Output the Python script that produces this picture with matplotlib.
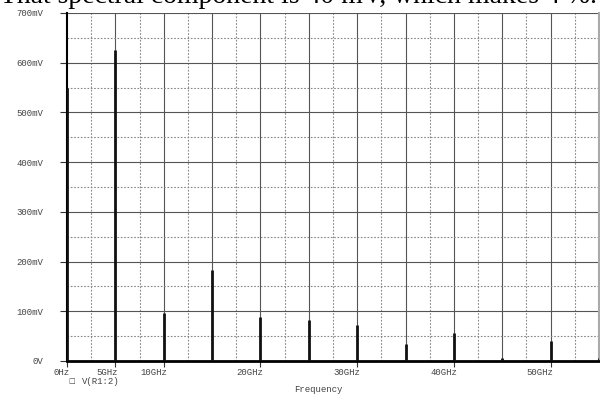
import matplotlib.pyplot as plt
import matplotlib.transforms as mtransforms
import numpy as np

# spectrum lines (GHz, mV)
freq_ghz = [0, 5, 10, 15, 20, 25, 30, 34.7, 35, 39.7, 40, 45, 49.7, 50, 55]
volt_mv = [550, 626, 97, 183, 88, 82, 73, 2, 35, 2, 57, 6, 2, 40, 6]

xtick_pos = [0, 5, 10, 20, 30, 40, 50]
xtick_lab = ['0Hz', '5GHz', '10GHz', '20GHz', '30GHz', '40GHz', '50GHz']
ytick_pos = [0, 100, 200, 300, 400, 500, 600, 700]
ytick_lab = ['0V', '100mV', '200mV', '300mV', '400mV', '500mV', '600mV', '700mV']

W, H = 600, 396
fig = plt.figure(figsize=(6, 3.96), dpi=100)
ax = fig.add_axes([67 / W, 1 - 361 / H, (599 - 67) / W, (361 - 13) / H])

mono = 'Liberation Mono'
txtcol = '#444444'

# grid: solid every 5 GHz / 100 mV, dotted in between
for x in np.arange(5, 55.1, 5):
    ax.axvline(x, color='#555555', lw=0.8, zorder=1)
for x in np.arange(2.5, 55, 5):
    ax.axvline(x, color='#888888', lw=0.8, ls=(0, (1.5, 1.5)), zorder=1)
for y in np.arange(100, 701, 100):
    ax.axhline(y, color='#555555', lw=0.8, zorder=1)
for y in np.arange(50, 700, 100):
    ax.axhline(y, color='#888888', lw=0.8, ls=(0, (1.5, 1.5)), zorder=1)

ax.vlines(freq_ghz, 0, volt_mv, color='#111111', lw=2, zorder=3)

ax.set_xlim(0, 55)
ax.set_ylim(0, 700)
ax.set_xticks(xtick_pos)
ax.set_xticklabels(xtick_lab, fontfamily=mono, fontsize=6.5, color=txtcol, ha='right')
ax.set_yticks(ytick_pos)
ax.set_yticklabels(ytick_lab, fontfamily=mono, fontsize=6.5, color=txtcol)
ax.tick_params(axis='x', length=4, width=0.8, color='#333333', pad=1)
ax.tick_params(axis='y', length=5, width=0.8, color='#333333', pad=12)

# labels sit right-aligned just past each tick
shift = mtransforms.ScaledTranslation(3 / 100, 0, fig.dpi_scale_trans)
for lab in ax.get_xticklabels():
    lab.set_transform(lab.get_transform() + shift)

ax.spines['top'].set_visible(False)
ax.spines['right'].set_color('#aaaaaa')
ax.spines['right'].set_linewidth(1.5)
ax.spines['left'].set_color('black')
ax.spines['left'].set_linewidth(1.5)
ax.spines['bottom'].set_color('black')
ax.spines['bottom'].set_linewidth(2)

fig.text(68 / W, 1 - 381 / H, '\u25a1', fontsize=5, color=txtcol, va='center')
fig.text(82 / W, 1 - 381 / H, 'V(R1:2)', fontfamily=mono, fontsize=6.5,
         color=txtcol, va='center')
fig.text(318 / W, 1 - 390 / H, 'Frequency', fontfamily=mono, fontsize=6.5,
         color=txtcol, ha='center', va='center')

# cut-off line of document text above the chart
fig.text(0, 1 - 3 / H, 'That spectral component is 40 mV, which makes 4 %.',
         fontfamily='Liberation Serif', fontsize=20, color='black', va='baseline')

fig.savefig('out.png', dpi=100)
